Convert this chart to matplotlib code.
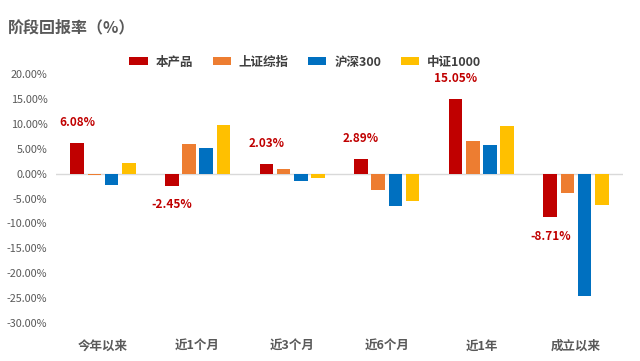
import matplotlib
matplotlib.use('Agg')
import matplotlib.pyplot as plt
import numpy as np

plt.rcParams['font.family'] = ['Noto Sans CJK SC', 'DejaVu Sans']

categories = ['今年以来', '近1个月', '近3个月', '近6个月', '近1年', '成立以来']
series_names = ['本产品', '上证综指', '沪深300', '中证1000']
product = [6.08, -2.45, 2.03, 2.89, 15.05, -8.71]
sse = [-0.3, 6.0, 1.0, -3.3, 6.6, -3.9]
csi300 = [-2.3, 5.2, -1.4, -6.4, 5.8, -24.6]
csi1000 = [2.1, 9.8, -0.9, -5.4, 9.6, -6.2]
yticks = [20, 15, 10, 5, 0, -5, -10, -15, -20, -25, -30]

colors = ['#C00000', '#ED7D31', '#0070C0', '#FFC000']
grey = '#595959'

fig = plt.figure(figsize=(6.4, 3.61), dpi=100)
ax = fig.add_axes([0.087, 0.105, 0.887, 0.69])

x = np.arange(len(categories))
pitch = 0.182
width = 0.144
all_series = [product, sse, csi300, csi1000]
for i, (vals, name, c) in enumerate(zip(all_series, series_names, colors)):
    ax.bar(x + (i - 1.5) * pitch, vals, width=width, color=c, label=name, zorder=3)

# data labels for the product
for xi, v in zip(x - 1.5 * pitch, product):
    if v >= 0:
        ax.annotate(f'{v:.2f}%', (xi, v), xytext=(0, 10), textcoords='offset points',
                    ha='center', va='bottom', color='#C00000', fontsize=8.5, fontweight='bold')
    else:
        ax.annotate(f'{v:.2f}%', (xi, v), xytext=(0, -9), textcoords='offset points',
                    ha='center', va='top', color='#C00000', fontsize=8.5, fontweight='bold')

ax.axhline(0, color='#D9D9D9', linewidth=1, zorder=2)
ax.set_xlim(-0.5, len(categories) - 0.5)
ax.set_ylim(-30, 20)
ax.set_yticks(yticks)
ax.set_yticklabels([f'{t:.2f}%' for t in yticks], color=grey, fontsize=7.8)
ax.set_xticks(x)
ax.set_xticklabels(categories, color=grey, fontsize=9, fontweight='bold')
ax.tick_params(axis='both', length=0)
ax.tick_params(axis='x', pad=12)
ax.tick_params(axis='y', pad=6)
for s in ax.spines.values():
    s.set_visible(False)

fig.text(0.013, 0.925, '阶段回报率（%）', fontsize=11.5, fontweight='bold', color=grey, va='center')
fig.legend(loc='center', bbox_to_anchor=(0.477, 0.828), ncol=4, frameon=False,
           handlelength=1.45, handleheight=0.55, columnspacing=1.55,
           handletextpad=0.65, labelcolor='#404040',
           prop={'weight': 'bold', 'size': 9})

fig.savefig('out.png', dpi=100)
